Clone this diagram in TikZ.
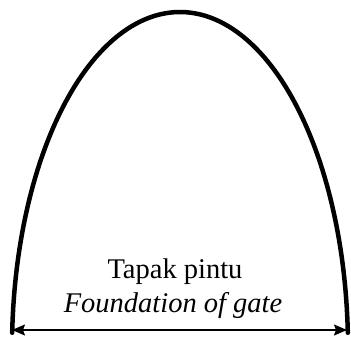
\documentclass[tikz,border=0pt]{standalone}
\usepackage{fontspec}
\setmainfont{Liberation Serif}
\usetikzlibrary{arrows.meta}
\begin{document}
\begin{tikzpicture}[x=1pt,y=-1pt,
  archline/.style={line width=4.5pt, line cap=round},
  dimline/.style={line width=1.4pt, {Stealth[length=13pt,width=11pt,inset=2pt]}-{Stealth[length=13pt,width=11pt,inset=2pt]}},
  lbl/.style={anchor=base, inner sep=0pt, font=\fontsize{28.5}{34}\selectfont}]
\useasboundingbox (0,0) rectangle (351,337);
\draw[archline] plot[domain=2.6:177.4, samples=120] ({180+168*cos(\x)}, {348-336*sin(\x)});
\coordinate (L) at (12,330);
\coordinate (R) at (347,330);
\draw[dimline] (L) -- (R);
\node[lbl] (t1) at (175,278) {Tapak pintu};
\node[lbl] (t2) at (173,312) {\itshape Foundation of gate};
\end{tikzpicture}
\end{document}
